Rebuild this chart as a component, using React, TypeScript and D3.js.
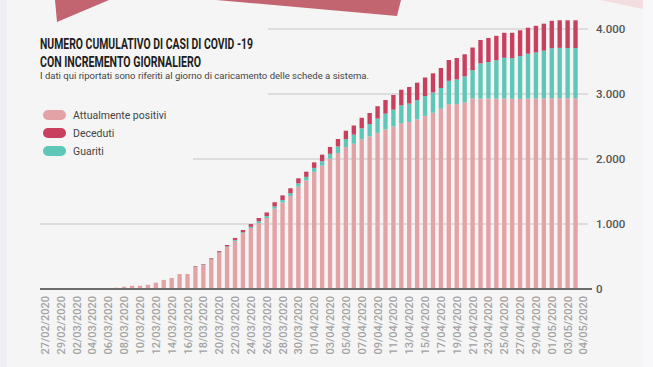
import React from 'react';
import * as d3 from 'd3';

const dates = [
  '27/02/2020', '28/02/2020', '29/02/2020', '01/03/2020', '02/03/2020', '03/03/2020', '04/03/2020',
  '05/03/2020', '06/03/2020', '07/03/2020', '08/03/2020', '09/03/2020', '10/03/2020', '11/03/2020',
  '12/03/2020', '13/03/2020', '14/03/2020', '15/03/2020', '16/03/2020', '17/03/2020', '18/03/2020',
  '19/03/2020', '20/03/2020', '21/03/2020', '22/03/2020', '23/03/2020', '24/03/2020', '25/03/2020',
  '26/03/2020', '27/03/2020', '28/03/2020', '29/03/2020', '30/03/2020', '31/03/2020', '01/04/2020',
  '02/04/2020', '03/04/2020', '04/04/2020', '05/04/2020', '06/04/2020', '07/04/2020', '08/04/2020',
  '09/04/2020', '10/04/2020', '11/04/2020', '12/04/2020', '13/04/2020', '14/04/2020', '15/04/2020',
  '16/04/2020', '17/04/2020', '18/04/2020', '19/04/2020', '20/04/2020', '21/04/2020', '22/04/2020',
  '23/04/2020', '24/04/2020', '25/04/2020', '26/04/2020', '27/04/2020', '28/04/2020', '29/04/2020',
  '30/04/2020', '01/05/2020', '02/05/2020', '03/05/2020', '04/05/2020',
];

// totale casi (cumulativo)
const totale = [
  0, 0, 0, 0, 0, 0, 0, 0, 12, 20, 35, 50, 50, 65, 97, 140, 170, 230, 230, 350,
  380, 472, 582, 677, 785, 908, 998, 1092, 1178, 1335, 1440, 1550, 1703, 1805, 1948, 2067, 2185, 2308, 2435, 2515,
  2634, 2708, 2812, 2908, 2985, 3066, 3108, 3174, 3254, 3318, 3400, 3523, 3554, 3611, 3715, 3831, 3862, 3895, 3942, 3942,
  3980, 4020, 4049, 4082, 4126, 4134, 4134, 4134,
];

const deceduti = [
  0, 0, 0, 0, 0, 0, 0, 0, 0, 0, 0, 0, 0, 0, 0, 0, 0, 0, 0, 10,
  10, 15, 18, 22, 30, 35, 40, 50, 55, 65, 70, 75, 77, 80, 85, 100, 105, 115, 130, 140,
  160, 170, 190, 210, 225, 240, 255, 270, 285, 295, 308, 320, 330, 340, 350, 360, 370, 375, 385, 390,
  395, 400, 410, 415, 420, 424, 426, 426,
];

const guariti = [
  0, 0, 0, 0, 0, 0, 0, 0, 8, 0, 0, 0, 0, 0, 0, 0, 0, 0, 0, 5,
  5, 5, 8, 10, 15, 15, 20, 30, 30, 35, 40, 45, 51, 55, 60, 70, 75, 100, 120, 140,
  170, 190, 220, 240, 260, 275, 285, 295, 305, 312, 318, 360, 380, 400, 435, 540, 560, 590, 625, 625,
  660, 690, 705, 735, 770, 774, 774, 774,
];

const yTicks = [0, 1000, 2000, 3000, 4000];

const legendItems = [
  { key: 'positivi', label: 'Attualmente positivi', color: '#e3a2a6' },
  { key: 'deceduti', label: 'Deceduti', color: '#c93f5e' },
  { key: 'guariti', label: 'Guariti', color: '#5fc7b7' },
];

const W = 653;
const H = 367;

export default function App() {
  const rows = dates.map((d, i) => ({
    date: d,
    positivi: totale[i] - deceduti[i] - guariti[i],
    guariti: guariti[i],
    deceduti: deceduti[i],
  }));

  const x = d3.scaleBand<string>().domain(dates).range([42.8, 577.7]).paddingInner(0.45);
  const y = d3.scaleLinear().domain([0, 4000]).range([289, 29]);

  const stack = d3.stack<any>().keys(['positivi', 'guariti', 'deceduti'])(rows);
  const colorOf: Record<string, string> = {};
  legendItems.forEach(l => (colorOf[l.key] = l.color));

  const fmt = (v: number) => (v === 0 ? '0' : d3.format(',')(v).replace(',', '.'));

  // where the grid lines start (hidden behind title / legend block)
  const gridStart: Record<number, number> = { 1000: 40, 2000: 193, 3000: 268, 4000: 268 };

  const last = dates.length - 1;
  const shownLabels = dates.filter((_, i) => i % 2 === 0 || i === last);

  return (
    <>
      <style>{'body{margin:0}'}</style>
      <svg width={W} height={H} style={{ display: 'block', fontFamily: 'Roboto, sans-serif' }}>
        <rect x={0} y={0} width={W} height={H} fill="#eeeef4" />
        <rect x={7} y={0} width={636} height={H} fill="#f5f5f5" />
        <rect x={643} y={0} width={10} height={H} fill="#f8f8fa" />

        {/* decorative shapes at the top */}
        <polygon points="55,0 57,22 109,0" fill="#c26571" />
        <polygon points="216,0 401,0 397,16" fill="#c26571" />
        <polygon points="600,0 643,0 643,9" fill="#f4dde0" />

        {/* grid */}
        {yTicks.filter(t => t > 0).map(t => (
          <line key={t} x1={gridStart[t]} x2={588} y1={y(t)} y2={y(t)} stroke="#dddddd" strokeWidth={2} />
        ))}

        {/* bars */}
        {stack.map(layer => (
          <g key={layer.key} fill={colorOf[layer.key]}>
            {layer.map((d, i) => {
              const h = y(d[0]) - y(d[1]);
              if (h <= 0) return null;
              return <rect key={i} x={x(dates[i])} y={y(d[1])} width={x.bandwidth()} height={h} />;
            })}
          </g>
        ))}

        {/* baseline */}
        <line x1={40} x2={592} y1={y(0)} y2={y(0)} stroke="#6b6b6b" strokeWidth={2} />

        {/* y labels */}
        {yTicks.map(t => (
          <text key={t} x={596} y={y(t)} dy="0.35em" fontSize={11.5} fontWeight={500} fill="#555">
            {fmt(t)}
          </text>
        ))}

        {/* x labels (the last one is pushed right so it does not collide) */}
        {shownLabels.map(d => {
          const cx = (x(d) as number) + x.bandwidth() / 2 + (d === dates[last] ? 7 : 0);
          return (
            <text
              key={d}
              transform={`translate(${cx + 4},296) rotate(-90)`}
              textAnchor="end"
              fontSize={11}
              fontWeight={500}
              fill="#a3a3a3"
            >
              {d}
            </text>
          );
        })}

        {/* title block */}
        <text x={40} y={49} fontSize={15.5} fontWeight={700} fill="#1d1d1d" textLength={213} lengthAdjust="spacingAndGlyphs">
          NUMERO CUMULATIVO DI CASI DI COVID -19
        </text>
        <text x={40} y={67} fontSize={15.5} fontWeight={700} fill="#1d1d1d" textLength={161} lengthAdjust="spacingAndGlyphs">
          CON INCREMENTO GIORNALIERO
        </text>
        <text x={40} y={79} fontSize={9} fill="#444" textLength={329} lengthAdjust="spacingAndGlyphs">
          I dati qui riportati sono riferiti al giorno di caricamento delle schede a sistema.
        </text>

        {/* legend */}
        {legendItems.map((l, i) => (
          <g key={l.key} transform={`translate(43,${115 + i * 18})`}>
            <rect x={0} y={-5} width={23} height={10} rx={5} fill={l.color} />
            <text x={30} y={0} dy="0.35em" fontSize={10.5} fill="#444">
              {l.label}
            </text>
          </g>
        ))}
      </svg>
    </>
  );
}
